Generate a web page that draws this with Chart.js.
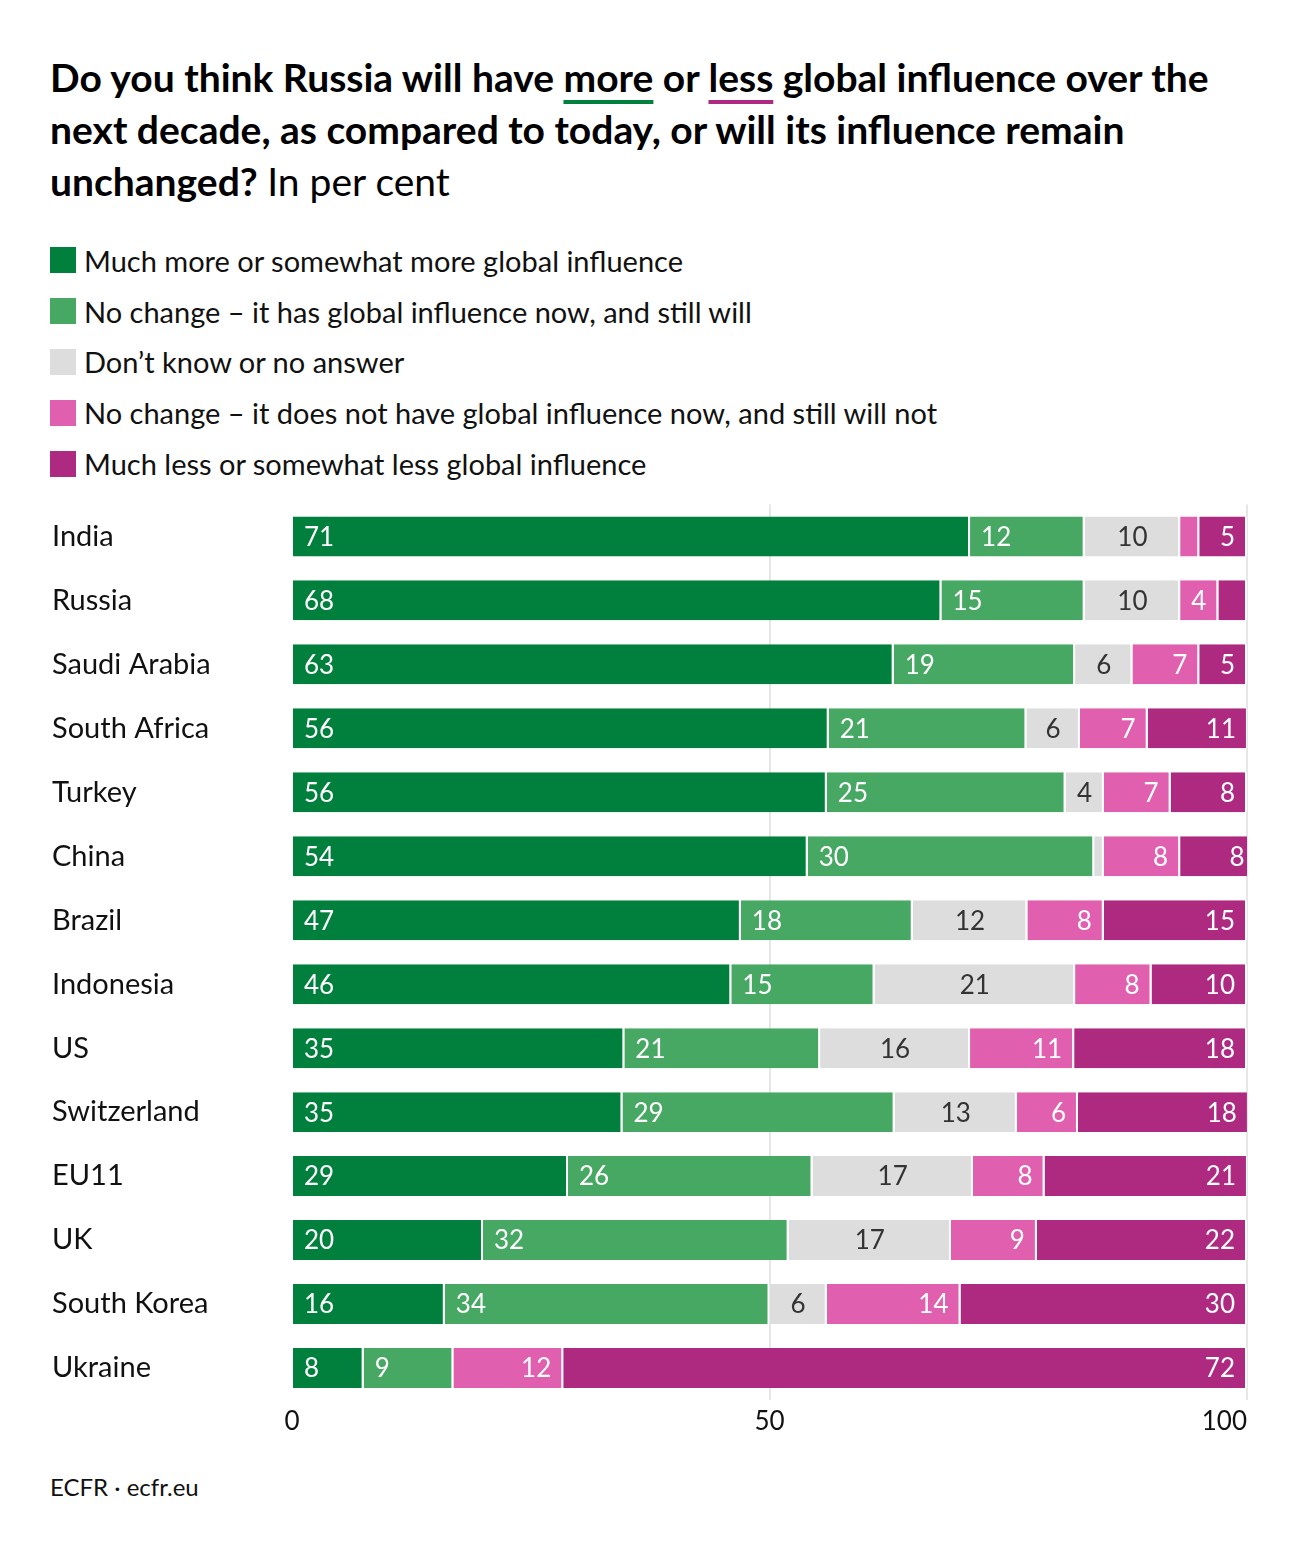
<!DOCTYPE html>
<html>
<head>
<meta charset="utf-8">
<script src="https://cdn.jsdelivr.net/npm/chart.js@4.4.1/dist/chart.umd.min.js"></script>
<style>
  body { margin: 0; background: #fff; font-family: Lato, 'Open Sans', sans-serif; color: #111; }
  #page { position: relative; width: 1300px; height: 1554px; overflow: hidden; }
  #title { position: absolute; left: 50px; top: 51px; width: 1240px; font-size: 39px; line-height: 52px; font-weight: 700; color: #000; white-space: nowrap; }
  #title .reg { font-weight: 400; }
  #title .u { text-decoration: underline; text-decoration-thickness: 4px; text-underline-offset: 8px; }
  #legend { position: absolute; left: 50px; top: 235px; }
  .li { display: flex; align-items: center; height: 50.8px; font-size: 29px; }
  .sw { width: 26px; height: 26px; margin-right: 8px; flex: none; }
  #wrap { position: absolute; left: 0; top: 487px; width: 1300px; height: 963px; }
  #foot { position: absolute; left: 50px; top: 1472px; font-size: 24px; }
</style>
</head>
<body>
<div id="page">
  <div id="title">Do you think Russia will have <span class="u" style="text-decoration-color:#00803c">more</span> or <span class="u" style="text-decoration-color:#ae2a80">less</span> global influence over the<br>next decade, as compared to today, or will its influence remain<br>unchanged? <span class="reg">In per cent</span></div>
  <div id="legend"></div>
  <div id="wrap"><canvas id="c"></canvas></div>
  <div id="foot">ECFR · ecfr.eu</div>
</div>
<script>
// Pays (ordre du graphique)
const COUNTRIES = ['India', 'Russia', 'Saudi Arabia', 'South Africa', 'Turkey', 'China', 'Brazil', 'Indonesia', 'US', 'Switzerland', 'EU11', 'UK', 'South Korea', 'Ukraine'];

const SERIES_LABELS = [
  'Much more or somewhat more global influence',
  'No change \u2013 it has global influence now, and still will',
  'Don\u2019t know or no answer',
  'No change \u2013 it does not have global influence now, and still will not',
  'Much less or somewhat less global influence'
];
const SERIES_COLORS = ['#00803c', '#46a862', '#dddddd', '#e05fae', '#ae2a80'];

// valeurs (en %)
const MORE      = [71, 68, 63, 56.2, 56, 54, 47, 46, 34.8, 34.6, 28.9, 20, 16, 7.5];
const SAME_HAS  = [12, 15, 19, 20.7, 25, 30, 18, 15, 20.5, 28.5, 25.6, 32, 34, 9.4];
const DONT_KNOW = [10, 10,  6, 5.6,   4,  1, 12, 21, 15.7, 12.8, 16.8, 17,  6, 0];
const SAME_NOT  = [ 2,  4,  7, 7.1,   7,  8,  8,  8, 10.9, 6.4,  7.5,  9, 14, 11.5];
const LESS      = [ 5,  3,  5, 10.5,  8,  8, 15, 10, 18.1, 17.9, 21.3, 22, 30, 71.6];

const X_TICKS = [0, 50, 100];
const LABEL_ALIGN = ['start', 'start', 'center', 'end', 'end'];
const LABEL_COLORS = ['#fff', '#fff', '#333', '#fff', '#fff'];

const FONT = "Lato, 'Open Sans', sans-serif";

// legende HTML
const legend = document.getElementById('legend');
SERIES_LABELS.forEach((lab, i) => {
  const row = document.createElement('div');
  row.className = 'li';
  row.innerHTML = `<span class="sw" style="background:${SERIES_COLORS[i]}"></span><span>${lab}</span>`;
  legend.appendChild(row);
});

// etiquettes dans les barres + ticks de l'axe x (le dernier aligné à droite)
const barLabels = {
  id: 'barLabels',
  afterDatasetsDraw(chart) {
    const ctx = chart.ctx;
    ctx.save();
    ctx.font = '26px ' + FONT;
    ctx.textBaseline = 'middle';
    chart.data.datasets.forEach((ds, di) => {
      const meta = chart.getDatasetMeta(di);
      meta.data.forEach((bar, i) => {
        const v = ds.data[i];
        if (v < 3.5) return;
        const left = Math.min(bar.base, bar.x);
        const right = Math.max(bar.base, bar.x);
        ctx.fillStyle = LABEL_COLORS[di];
        if (LABEL_ALIGN[di] === 'start') {
          ctx.textAlign = 'left';
          ctx.fillText(Math.round(v), left + 11, bar.y + 1);
        } else if (LABEL_ALIGN[di] === 'center') {
          ctx.textAlign = 'center';
          ctx.fillText(Math.round(v), (left + right) / 2, bar.y + 1);
        } else {
          ctx.textAlign = 'right';
          ctx.fillText(Math.round(v), right - 12, bar.y + 1);
        }
      });
    });
    const xs = chart.scales.x;
    ctx.fillStyle = '#111';
    X_TICKS.forEach((t, i) => {
      ctx.textAlign = i === X_TICKS.length - 1 ? 'right' : 'center';
      ctx.fillText(t, xs.getPixelForValue(t), chart.chartArea.bottom + 22);
    });
    ctx.restore();
  }
};

const allData = [MORE, SAME_HAS, DONT_KNOW, SAME_NOT, LESS];

new Chart(document.getElementById('c'), {
  type: 'bar',
  data: {
    labels: COUNTRIES,
    datasets: allData.map((d, i) => ({
      label: SERIES_LABELS[i],
      data: d,
      backgroundColor: SERIES_COLORS[i],
      borderColor: '#fff',
      borderWidth: { left: 0, right: 2, top: 0, bottom: 0 },
      borderSkipped: false,
      categoryPercentage: 1,
      barPercentage: 0.625
    }))
  },
  options: {
    indexAxis: 'y',
    responsive: true,
    maintainAspectRatio: false,
    animation: false,
    layout: { padding: { left: 52, right: 53, top: 0, bottom: 0 } },
    plugins: { legend: { display: false }, tooltip: { enabled: false } },
    scales: {
      x: {
        stacked: true,
        min: 0,
        max: 100,
        afterBuildTicks: s => { s.ticks = X_TICKS.map(v => ({ value: v })); },
        afterFit: s => { s.height = 50; },
        ticks: { display: false },
        grid: {
          color: c => (c.tick && c.tick.value === 0 ? 'rgba(0,0,0,0)' : '#e6e6e6'),
          lineWidth: 2,
          drawTicks: false
        },
        border: { display: false }
      },
      y: {
        stacked: true,
        afterFit: s => { s.width = 240; },
        ticks: { color: '#111', font: { family: FONT, size: 29 }, crossAlign: 'far', padding: 0 },
        grid: { display: false },
        border: { display: false }
      }
    }
  },
  plugins: [barLabels]
});
</script>
</body>
</html>
